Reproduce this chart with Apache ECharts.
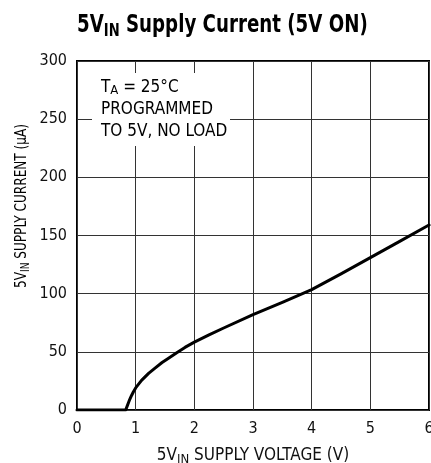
<!DOCTYPE html>
<html><head><meta charset="utf-8">
<script src="https://cdn.jsdelivr.net/npm/echarts@6/dist/echarts.min.js"></script>
<style>html,body{margin:0;padding:0;background:#fff}#c{width:431px;height:463px}</style>
</head><body><div id="c"></div>
<script>
const voltage = [0, 0.83, 0.86, 0.89, 0.93, 0.96, 1.0, 1.1, 1.22, 1.33, 1.45, 1.56, 1.7, 1.84, 2.0, 2.25, 2.5, 3.0, 3.5, 4.0, 4.5, 5.0, 5.5, 6.0];
const current = [0, 0, 4, 8, 12.5, 15.5, 19, 25.5, 31.5, 36, 40.8, 44.5, 49.3, 53.8, 58.3, 64.5, 70.5, 82, 92.5, 103.5, 117, 131, 145, 159];
const xTicks = [0, 1, 2, 3, 4, 5, 6];
const yTicks = [0, 50, 100, 150, 200, 250, 300];

const FN = "'Liberation Sans Narrow', 'DejaVu Sans Condensed', 'Roboto', sans-serif";
const chart = echarts.init(document.getElementById('c'), null, {renderer: 'canvas'});

function subRich(size, sub, pad, color) {
  return {
    n: {fontFamily: FN, fontSize: size, lineHeight: size, verticalAlign: 'top', color: color || '#111'},
    s: {fontFamily: FN, fontSize: sub, lineHeight: sub, verticalAlign: 'top', padding: [pad, 0, 0, 0], color: color || '#111'}
  };
}
const titleRich = subRich(25, 18, 9, '#222');
titleRich.n.fontWeight = 'bold'; titleRich.s.fontWeight = 'bold';
const noteRich = subRich(17, 13, 7);
noteRich.n.lineHeight = 22; noteRich.n.verticalAlign = 'middle';

chart.setOption({
  animation: false,
  backgroundColor: '#fff',
  grid: {left: 77, right: 2, top: 61, bottom: 53, show: true, borderColor: '#000', borderWidth: 2,
    containLabel: false, outerBoundsMode: 'none'},
  xAxis: {
    type: 'value', min: xTicks[0], max: xTicks[xTicks.length - 1], interval: 1,
    axisLine: {show: false}, axisTick: {show: false},
    splitLine: {show: true, lineStyle: {color: '#333', width: 1}},
    axisLabel: {fontFamily: FN, fontSize: 16, color: '#111', margin: 11, hideOverlap: false,
      formatter: v => xTicks.includes(v) ? String(v) : ''},
    name: '{n|5V}{s|IN}{n| SUPPLY VOLTAGE (V)}',
    nameLocation: 'middle', nameGap: 37,
    nameTextStyle: {rich: subRich(17, 13, 6)}
  },
  yAxis: {
    type: 'value', min: yTicks[0], max: yTicks[yTicks.length - 1], interval: 50,
    axisLine: {show: false}, axisTick: {show: false},
    splitLine: {show: true, lineStyle: {color: '#333', width: 1}},
    axisLabel: {fontFamily: FN, fontSize: 16, color: '#111', margin: 10,
      formatter: v => yTicks.includes(v) ? String(v) : ''}
  },
  graphic: [
    {type: 'text', x: 77, y: 13, scaleX: 0.81, z: 11, style: {
      text: '{n|5V}{s|IN}{n| Supply Current (5V ON)}', rich: titleRich, align: 'left', verticalAlign: 'top'
    }},
    {type: 'rect', left: 92, top: 73, shape: {width: 138, height: 73}, style: {fill: '#fff'}, z: 10},
    {type: 'text', left: 101, top: 77, z: 11, style: {
      text: '{n|T}{s|A}{n| = 25°C}\n{n|PROGRAMMED}\n{n|TO 5V, NO LOAD}',
      rich: noteRich
    }},
    {type: 'text', x: 14, y: 206, rotation: Math.PI / 2, scaleX: 0.84, z: 11, style: {
      text: '{n|5V}{s|IN}{n| SUPPLY CURRENT (µA)}',
      rich: subRich(16, 12, 6), align: 'center', verticalAlign: 'top'
    }}
  ],
  series: [{
    type: 'line', data: voltage.map((v, i) => [v, current[i]]),
    showSymbol: false, smooth: false,
    lineStyle: {color: '#000', width: 3, join: 'round', cap: 'round'}, z: 5
  }]
});
</script></body></html>
